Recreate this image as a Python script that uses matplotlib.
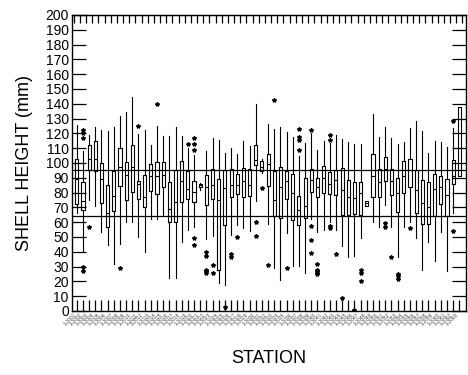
import matplotlib
matplotlib.use('Agg')
import matplotlib.pyplot as plt
import numpy as np

plt.rcParams['font.family'] = ['Liberation Sans', 'DejaVu Sans']

# shell height summaries per station: whisker low, Q1, median, Q3, whisker high
low = [66, 40, 75, 71, 53.5, 44.6, 32, 45, 60, 60,
       50, 40, 62, 62, 65, 22, 22, 46.8, 55, 57,
       82, 48.6, 50.6, 19, 17.5, 51.3, 58, 55.8, 54, 74,
       93, 59, 28.8, 21, 52.9, 30.4, 30.4, 26, 62, 53.6,
       54.7, 60, 55, 44, 36.7, 37.3, 49, 71, 60, 57,
       71.6, 57, 36.2, 57, 60, 49, 27.7, 46.8, 33.8, 53.6,
       27, 66, 91.5]
q1 = [72, 68, 95, 94.4, 73, 57, 67.7, 84.6, 75, 80.6,
      76, 70, 81, 79, 83.6, 60, 60, 73.6, 76, 73.6,
      83.5, 71.3, 76, 27.7, 58, 76.7, 79, 77, 77.6, 98.6,
      94.3, 84.4, 64, 63, 76, 61.5, 58, 62.6, 80.6, 77,
      80, 79, 78.5, 64.8, 64.8, 65.3, 64.8, 71, 77.3, 77.3,
      87.8, 78.5, 66.6, 80, 84, 66.4, 59, 59, 64.2, 72.6,
      64, 85.5, 91.5]
med = [89, 74, 103, 103, 89, 66, 78, 97, 92, 97,
       86, 77, 91.5, 91.5, 92, 69, 73.6, 88, 82.5, 80.6,
       85, 83.5, 85.4, 75, 83, 85.4, 85.4, 87.8, 85.4, 102,
       97, 99, 75, 83.5, 87.6, 80, 68, 71, 88.5, 83.7,
       89.6, 85.6, 88.5, 81.8, 77.3, 76.4, 79.6, 72.8, 91.5, 87,
       96, 88, 79.6, 91, 95.3, 81.8, 73.2, 70, 82.3, 83.7,
       78.5, 91.5, 110]
q3 = [103, 87, 112, 115, 100, 85, 94.6, 110, 101, 112,
      88, 92, 99, 100.4, 101, 87, 95, 101.5, 94.3, 88,
      86, 92, 96, 89, 95, 96, 92.5, 96.6, 96, 112,
      101.5, 106, 94.3, 97, 94.5, 92.5, 77.4, 89.6, 96, 89.6,
      98, 93.6, 95, 96.6, 88.5, 86.9, 86.9, 74.5, 105.8, 96,
      104.3, 96, 89.6, 101.6, 102.4, 95, 88.5, 87.4, 92.5, 91,
      89.3, 102, 138]
high = [126, 108, 119, 124, 122, 121.6, 124.5, 132, 134.7, 144.3,
        119.6, 122.3, 112, 125, 118, 118, 124, 118, 110, 105.5,
        86.5, 108, 116.7, 115.3, 107, 110, 106.3, 114.9, 111.3, 139.8,
        103, 126.6, 122.7, 124.5, 121, 117.3, 105, 113.8, 120, 108.5,
        114.9, 113.8, 118.6, 116, 114.4, 112.8, 112.8, 74.5, 133, 117.3,
        124, 116.7, 112.6, 114, 123.4, 128.5, 121.6, 106.5, 115, 114,
        110.6, 123.4, 138]
outliers = [[], [122.6, 120, 116.6, 30, 27], [56.5], [], [], [], [], [29], [], [],
            [125.2], [], [], [139.6], [], [], [], [], [113], [117, 113, 109, 49.6, 44.6],
            [], [40, 37.2, 28, 27, 25.5], [31, 25.5], [], [2.5], [38.2, 36.2], [50.2], [], [], [60.3, 50.6],
            [82.8], [31], [142.6], [], [28.8], [], [122.7, 117.3, 115.5, 108.5], [], [122.3, 57.4, 48, 39.4], [32, 27.7, 27, 25.9, 24.8],
            [], [119, 115.5, 57.4, 55.8], [38.2], [8.5], [], [0.5], [27.7, 26, 20], [], [], [],
            [59.6, 56.5], [36.2], [25, 23.6, 21.8], [], [55.8], [], [], [], [], [],
            [], [128.3, 54], []]
stations = ['1-%04d' % (2001 + k) for k in range(len(med))]

# horizontal reference lines
ref_lines = [64, 95.5]

stats = []
for k in range(len(med)):
    stats.append(dict(whislo=low[k], q1=q1[k], med=med[k], q3=q3[k],
                      whishi=high[k], fliers=outliers[k]))

fig = plt.figure(figsize=(4.68, 3.75), dpi=100)
ax = fig.add_axes([0.153, 0.1707, 0.8417, 0.7893])

pos = np.arange(1, len(med) + 1)
ax.bxp(stats, positions=pos, widths=0.5, showcaps=False,
       boxprops=dict(color='black', linewidth=0.8),
       whiskerprops=dict(color='black', linewidth=0.8),
       medianprops=dict(color='black', linewidth=0.8),
       flierprops=dict(marker='*', markersize=3, markerfacecolor='black',
                       markeredgecolor='black', linestyle='none'))

for yv in ref_lines:
    ax.axhline(yv, color='black', linewidth=0.9)

ax.set_xlim(0.16, len(med) + 1.0)
ax.set_ylim(0, 200)
ax.set_yticks(np.arange(0, 201, 10))
ax.tick_params(axis='y', direction='in', length=10, width=0.9, right=True,
               labelsize=10, pad=2)
ax.set_xticks(pos)
ax.set_xticklabels(stations, rotation=45, ha='right', fontsize=3.5, color='#444444')
ax.tick_params(axis='x', direction='in', length=8, width=0.9, pad=1)

# short ticks along the top edge, between stations
top = ax.secondary_xaxis('top')
top.set_xticks(np.arange(0.5, len(med) + 1, 1))
top.tick_params(direction='in', length=6, width=0.9, labeltop=False)

for s in ax.spines.values():
    s.set_linewidth(1.0)

ax.set_ylabel('SHELL HEIGHT (mm)', fontsize=13, labelpad=9)
ax.set_xlabel('STATION', fontsize=13, labelpad=17)

fig.savefig('out.png', dpi=100)
